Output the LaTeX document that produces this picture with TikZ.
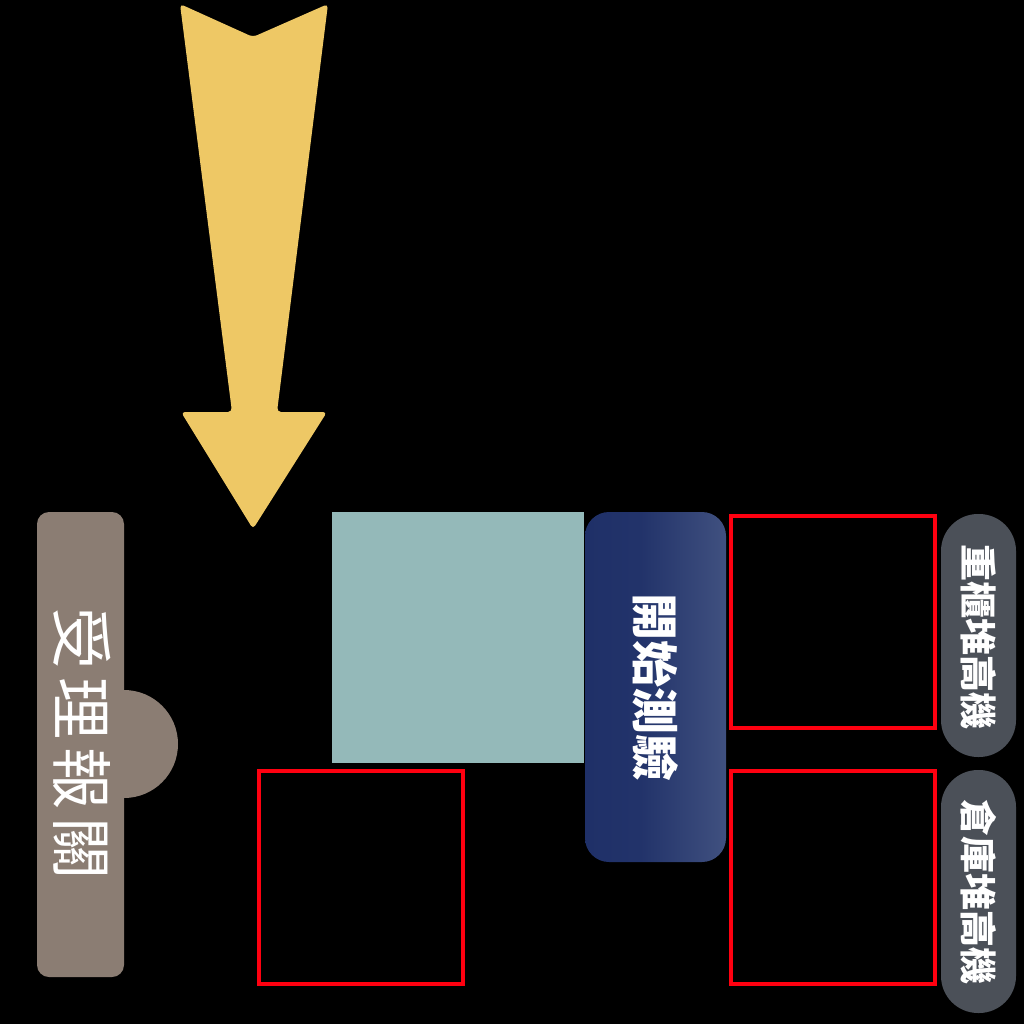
\documentclass[tikz,border=0pt]{standalone}
\usepackage{fontspec}
\newfontfamily\cjk{Noto Sans CJK TC}
\definecolor{arrowyel}{HTML}{EEC865}
\definecolor{brownbox}{HTML}{8B7D73}
\definecolor{tealbox}{HTML}{94B9B9}
\definecolor{navyA}{HTML}{1F3068}
\definecolor{navyB}{HTML}{56668F}
\definecolor{pillgray}{HTML}{4B5058}
\definecolor{redline}{HTML}{FF0010}
\pgfdeclarehorizontalshading{navysh}{100bp}{color(0bp)=(navyA); color(25bp)=(navyA); color(45bp)=(navyA!94!navyB); color(75bp)=(navyA!40!navyB); color(100bp)=(navyA!40!navyB)}
\begin{document}
\begin{tikzpicture}[x=1pt,y=-1pt,
  redsq/.style={draw=redline,line width=4pt},
  vtext/.style={rotate=-90,text=white,inner sep=0pt,font=\cjk},
  pill/.style={fill=pillgray,rounded corners=37pt}]
\fill[black] (0,0) rectangle (1024,1024);
\useasboundingbox (0,0) rectangle (1024,1024);
% yellow arrow
\fill[arrowyel,rounded corners=4pt] (180,4) -- (253,37) -- (328,4) -- (277,412) -- (327,412) -- (253,529) -- (181,412) -- (232,412) -- cycle;
% brown box with semicircle
\fill[brownbox] (124,744) circle[radius=54];
\fill[brownbox,rounded corners=12pt] (37,512) rectangle (124,977);
\node[vtext,font=\cjk\fontsize{62}{62}\selectfont] (t1) at (82,743) {受\hspace{8pt}理\hspace{8pt}報\hspace{8pt}關};
% teal square
\fill[tealbox] (332,512) rectangle (584,763);
% navy box
\shade[shading=navysh,rounded corners=24pt] (585,512) rectangle (726,862);
\node[vtext,font=\cjk\bfseries\fontsize{47}{47}\selectfont] (t2) at (656,687) {開始測驗};
% red squares
\draw[redsq] (259,771) rectangle (463,984);
\draw[redsq] (731,516) rectangle (935,728);
\draw[redsq] (731,771) rectangle (935,984);
% gray pills
\fill[pill] (941,514) rectangle (1016,757);
\fill[pill] (941,770) rectangle (1016,1013);
\node[vtext,font=\cjk\bfseries\fontsize{37}{37}\selectfont] (t3) at (979,637) {重櫃堆高機};
\node[vtext,font=\cjk\bfseries\fontsize{37}{37}\selectfont] (t4) at (979,892) {倉庫堆高機};
\end{tikzpicture}
\end{document}
